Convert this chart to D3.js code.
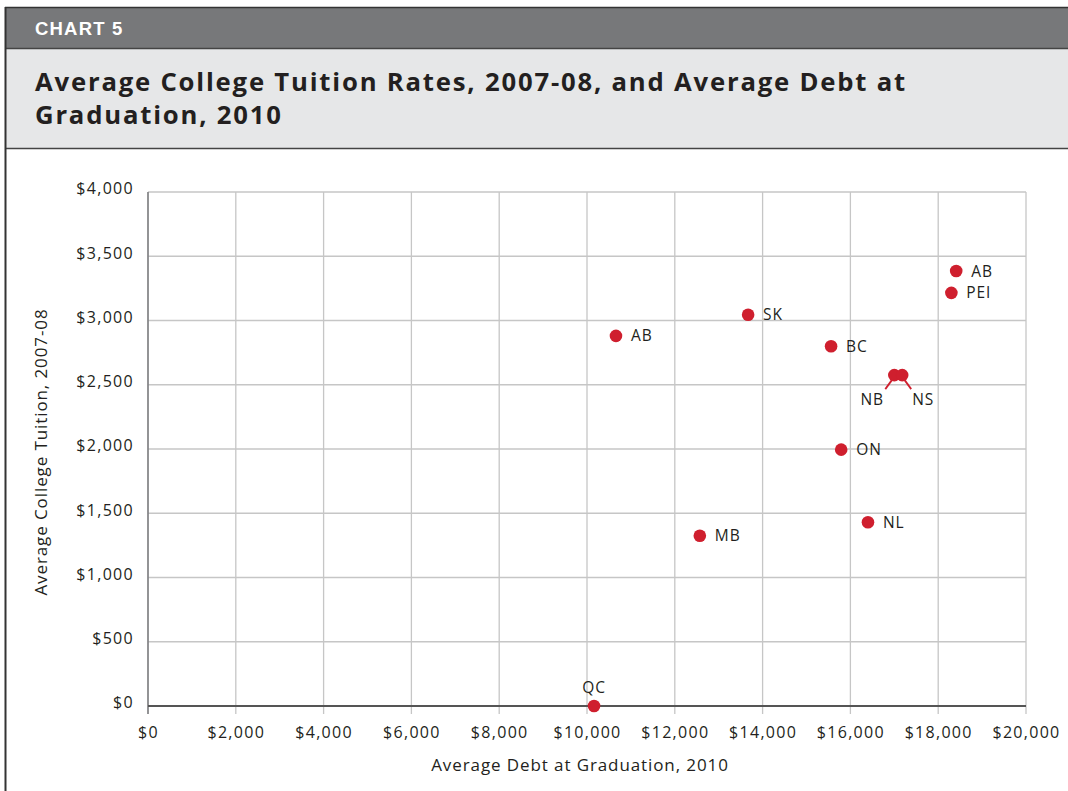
<!DOCTYPE html>
<html><head><meta charset="utf-8">
<script src="https://cdn.jsdelivr.net/npm/d3@7"></script>
<style>
html,body{margin:0;padding:0;background:#fff;}
svg{display:block;}
</style></head>
<body>
<svg id="c" width="1068" height="791"></svg>
<script>
const provinces = ["AB","SK","BC","NB","NS","AB","PEI","ON","NL","MB","QC"];
const debt      = [10660,13670,15560,17000,17180,18410,18300,15790,16400,12570,10160];
const tuition   = [2880,3045,2800,2575,2575,3385,3215,1995,1430,1325,0];
const labelPos  = ["right","right","right","belowLeft","belowRight","right","right","right","right","right","above"];
const xTicks = [0,2000,4000,6000,8000,10000,12000,14000,16000,18000,20000];
const yTicks = [0,500,1000,1500,2000,2500,3000,3500,4000];

const svg = d3.select("#c");
const W = 1068, H = 791;
const font = "'Open Sans', sans-serif";
const ink = "#231f20";

// header bands
svg.append("rect").attr("x",5).attr("y",8).attr("width",W-5).attr("height",40).attr("fill","#77787a");
svg.append("rect").attr("x",5).attr("y",49).attr("width",W-5).attr("height",99).attr("fill","#e6e7e8");
svg.append("line").attr("x1",5).attr("x2",W).attr("y1",7.5).attr("y2",7.5).attr("stroke","#333").attr("stroke-width",1.5);
svg.append("line").attr("x1",5).attr("x2",W).attr("y1",48.5).attr("y2",48.5).attr("stroke","#444").attr("stroke-width",1.5);
svg.append("line").attr("x1",5).attr("x2",W).attr("y1",148.5).attr("y2",148.5).attr("stroke","#444").attr("stroke-width",1.5);
svg.append("line").attr("x1",5.5).attr("x2",5.5).attr("y1",7).attr("y2",H).attr("stroke","#333").attr("stroke-width",2);

svg.append("text").attr("x",35).attr("y",35).text("CHART 5")
  .attr("font-family","'Liberation Sans', Arial, sans-serif").attr("font-weight","bold")
  .attr("font-size",18.5).attr("letter-spacing",1.2).attr("fill","#fff");
const title = svg.append("text").attr("font-family",font).attr("font-weight",700)
  .attr("font-size",25.7).attr("letter-spacing",1.8).attr("fill",ink);
title.append("tspan").attr("x",35).attr("y",91).text("Average College Tuition Rates, 2007-08, and Average Debt at");
title.append("tspan").attr("x",35).attr("y",124).text("Graduation, 2010");

// scales
const x = d3.scaleLinear().domain([0,20000]).range([148,1026]);
const y = d3.scaleLinear().domain([0,4000]).range([706,192]);

const fmt = d => "$" + d3.format(",")(d);

// grid
const g = svg.append("g");
g.selectAll(".vg").data(xTicks).join("line")
  .attr("x1",d=>x(d)).attr("x2",d=>x(d)).attr("y1",y(4000)).attr("y2",714)
  .attr("stroke","#c6c6c6").attr("stroke-width",1.3);
g.selectAll(".hg").data(yTicks).join("line")
  .attr("x1",x(0)).attr("x2",x(20000)).attr("y1",d=>y(d)).attr("y2",d=>y(d))
  .attr("stroke","#c6c6c6").attr("stroke-width",1.3);
// axes lines
g.append("line").attr("x1",x(0)).attr("x2",x(0)).attr("y1",y(4000)).attr("y2",714).attr("stroke","#6d6e71").attr("stroke-width",1.3);
g.append("line").attr("x1",x(0)).attr("x2",x(20000)).attr("y1",y(0)).attr("y2",y(0)).attr("stroke","#555").attr("stroke-width",2);

// axes with d3
const xAxis = d3.axisBottom(x).tickValues(xTicks).tickFormat(fmt).tickSize(0).tickPadding(22);
const yAxis = d3.axisLeft(y).tickValues(yTicks).tickFormat(fmt).tickSize(0).tickPadding(14);
const xa = svg.append("g").attr("transform",`translate(0,${y(0)})`).call(xAxis);
const ya = svg.append("g").attr("transform",`translate(${x(0)},0)`).call(yAxis);
[xa,ya].forEach(a=>{
  a.select(".domain").remove();
  a.selectAll("text").attr("font-family",font).attr("font-size",16).attr("letter-spacing",1.3).attr("fill",ink);
});
ya.selectAll("text").attr("dy","0.12em");
xa.selectAll("text").attr("dy","0.65em");

// axis titles
svg.append("text").attr("x",580).attr("y",771).attr("text-anchor","middle")
  .attr("font-family",font).attr("font-size",17).attr("letter-spacing",0.9).attr("fill",ink).text("Average Debt at Graduation, 2010");
svg.append("text").attr("transform","translate(47,452) rotate(-90)").attr("text-anchor","middle")
  .attr("font-family",font).attr("font-size",17).attr("letter-spacing",0.9).attr("fill",ink).text("Average College Tuition, 2007-08");

// points
const red = "#cf1f2e";
const data = provinces.map((p,i)=>({p,dx:debt[i],ty:tuition[i],pos:labelPos[i]}));
const pts = svg.append("g");
// leader lines for clustered points
data.filter(d=>d.pos==="belowLeft"||d.pos==="belowRight").forEach(d=>{
  const sx = d.pos==="belowLeft" ? -1 : 1;
  pts.append("line").attr("x1",x(d.dx)+sx*1).attr("y1",y(d.ty)+3)
    .attr("x2",x(d.dx)+sx*9).attr("y2",y(d.ty)+14).attr("stroke",red).attr("stroke-width",1.8);
});
pts.selectAll("circle").data(data).join("circle")
  .attr("cx",d=>x(d.dx)).attr("cy",d=>y(d.ty)).attr("r",6.3).attr("fill",red);
pts.selectAll("text").data(data).join("text")
  .attr("font-family",font).attr("font-size",15.5).attr("letter-spacing",0.9).attr("fill",ink)
  .attr("x",d=> d.pos==="right" ? x(d.dx)+15 : d.pos==="above" ? x(d.dx) : d.pos==="belowLeft" ? x(d.dx)-22 : x(d.dx)+21)
  .attr("y",d=> d.pos==="right" ? y(d.ty)+5.5 : d.pos==="above" ? y(d.ty)-13 : y(d.ty)+30)
  .attr("text-anchor",d=> d.pos==="right" ? "start" : "middle")
  .text(d=>d.p);
</script>
</body></html>
